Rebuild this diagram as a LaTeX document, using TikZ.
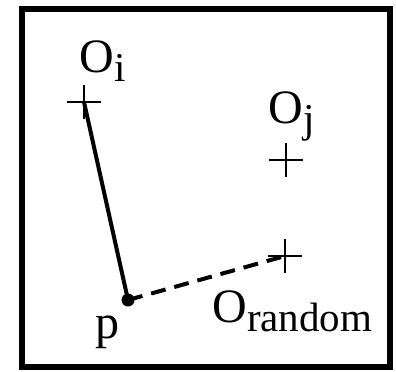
\documentclass[tikz,border=0pt]{standalone}
\usepackage{fontspec}
\setmainfont{Liberation Serif}
\newcommand{\mainsz}{\fontsize{24pt}{28pt}\selectfont}
\newcommand{\subsz}[1]{\raisebox{-4.5pt}{\fontsize{20.5pt}{24pt}\selectfont #1}}
\begin{document}
\begin{tikzpicture}[x=0.5pt,y=-0.5pt,
  frame/.style={line width=3.3pt},
  solidlink/.style={line width=2pt},
  dashlink/.style={line width=2pt,dash pattern=on 7.5pt off 4.5pt},
  lbl/.style={anchor=base west,inner sep=0pt,font=\mainsz},
  pdot/.style={circle,fill=black,inner sep=0pt,minimum size=6.5pt},
  plusmark/.pic={\draw[line width=0.9pt] (-17,0) -- (17,0) (0,-17) -- (0,17);}]
\useasboundingbox (0,0) rectangle (396,371);
\draw[frame] (22,9) rectangle (390,367);
\coordinate (oi) at (84,102);
\coordinate (oj) at (286,160);
\coordinate (or) at (285,256);
\node[pdot] (p) at (128,300) {};
\pic at (oi) {plusmark};
\pic at (oj) {plusmark};
\pic at (or) {plusmark};
\draw[solidlink] (oi) -- (p.center);
\draw[dashlink] (p.center) -- (or);
\node[lbl] (li) at (79,72) {O\subsz{i}};
\node[lbl] (lj) at (268,123) {O\subsz{j}};
\node[lbl] (lp) at (95,338) {p};
\node[lbl] (lr) at (212,322) {O\subsz{random}};
\end{tikzpicture}
\end{document}
